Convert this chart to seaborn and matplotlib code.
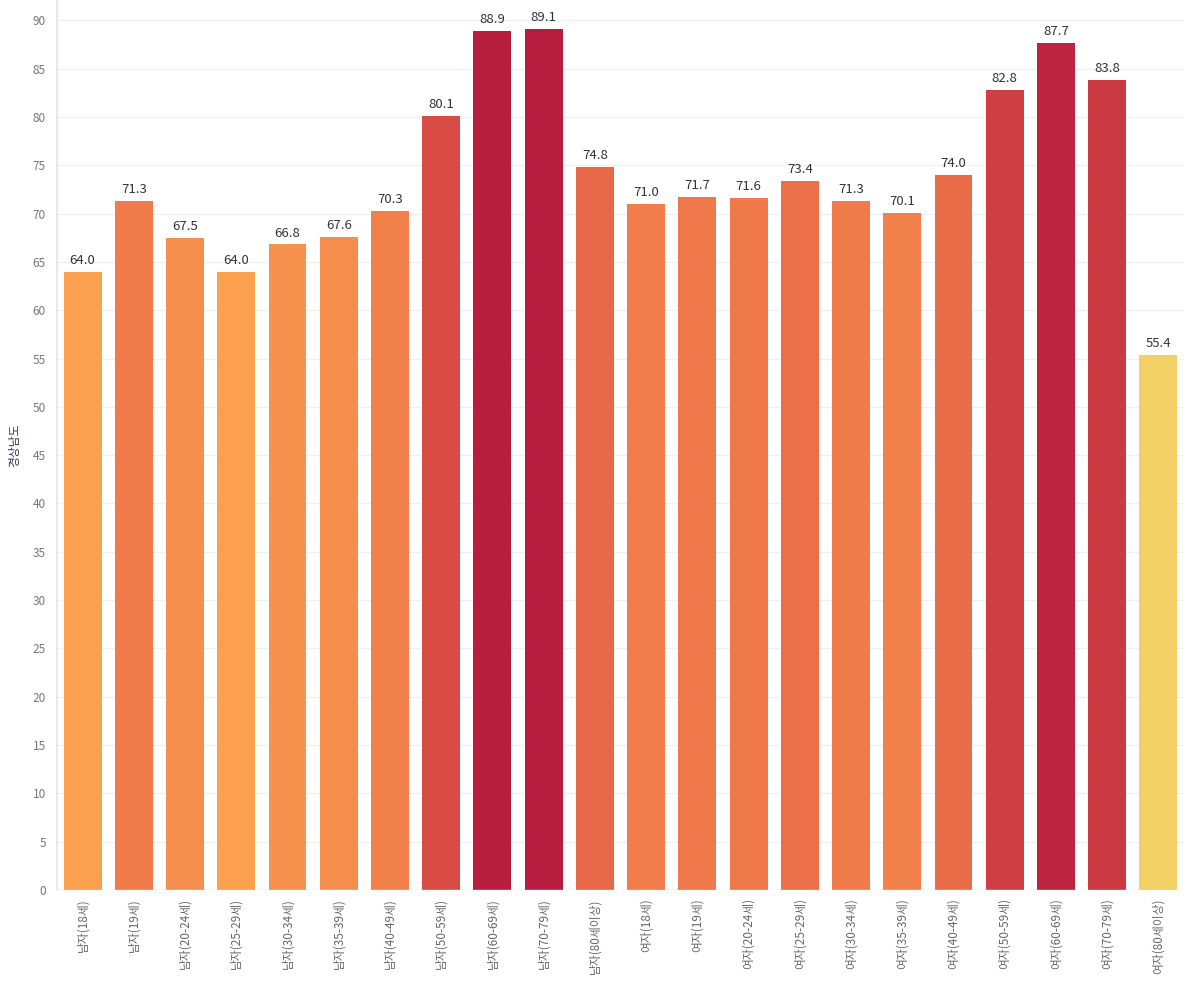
import matplotlib
matplotlib.use('Agg')
import matplotlib.pyplot as plt
import seaborn as sns
import pandas as pd
from matplotlib.colors import LinearSegmentedColormap, Normalize

# 경상남도 values by sex / age group
groups = ['남자(18세)', '남자(19세)', '남자(20-24세)', '남자(25-29세)', '남자(30-34세)',
          '남자(35-39세)', '남자(40-49세)', '남자(50-59세)', '남자(60-69세)', '남자(70-79세)',
          '남자(80세이상)', '여자(18세)', '여자(19세)', '여자(20-24세)', '여자(25-29세)',
          '여자(30-34세)', '여자(35-39세)', '여자(40-49세)', '여자(50-59세)', '여자(60-69세)',
          '여자(70-79세)', '여자(80세이상)']
values = [64.0, 71.3, 67.5, 64.0, 66.8, 67.6, 70.3, 80.1, 88.9, 89.1, 74.8,
          71.0, 71.7, 71.6, 73.4, 71.3, 70.1, 74.0, 82.8, 87.7, 83.8, 55.4]

df = pd.DataFrame({'group': groups, 'value': values})

sns.set_theme(style='white')
plt.rcParams['font.family'] = ['Noto Sans CJK KR', 'DejaVu Sans']

# colour ramp: gold -> orange -> red
cmap = LinearSegmentedColormap.from_list('ramp', [
    (0.0, '#f4d166'), (0.26, '#fa9f4f'), (0.49, '#ef784a'),
    (0.73, '#d94d46'), (1.0, '#b71d3e')])
norm = Normalize(vmin=55.4, vmax=89.1)
colors = [cmap(norm(v)) for v in values]

fig = plt.figure(figsize=(11.84, 9.91), dpi=100)
ax = fig.add_axes([57 / 1184, 1 - 890 / 991, 1 - 57 / 1184, 890 / 991])

sns.barplot(data=df, x='group', y='value', hue='group', palette=colors,
            legend=False, width=0.74, saturation=1, linewidth=0, ax=ax)

for i, v in enumerate(values):
    ax.text(i, v + 0.5, f'{v:.1f}', ha='center', va='bottom', fontsize=9.5, color='#333333')

ax.set_xlim(-0.5, 21.5)
ax.set_ylim(0, 92.1)
ax.set_yticks(range(0, 91, 5))
ax.yaxis.grid(True, color='#f0f0f0', linewidth=1)
ax.set_axisbelow(True)
ax.tick_params(axis='y', labelsize=8.5, labelcolor='#777777', length=0, pad=8)
ax.tick_params(axis='x', labelsize=8.5, labelcolor='#666666', length=0, pad=6)
plt.setp(ax.get_xticklabels(), rotation=90, va='top', ha='center')

for s in ['top', 'right', 'bottom']:
    ax.spines[s].set_visible(False)
ax.spines['left'].set_color('#e6e6e6')
ax.axhline(0, color='#e6e6e6', linewidth=1)

ax.set_xlabel('')
ax.set_ylabel('경상남도', fontsize=8.5, color='#2b3a55', labelpad=8)

plt.savefig('out.png', dpi=100)
